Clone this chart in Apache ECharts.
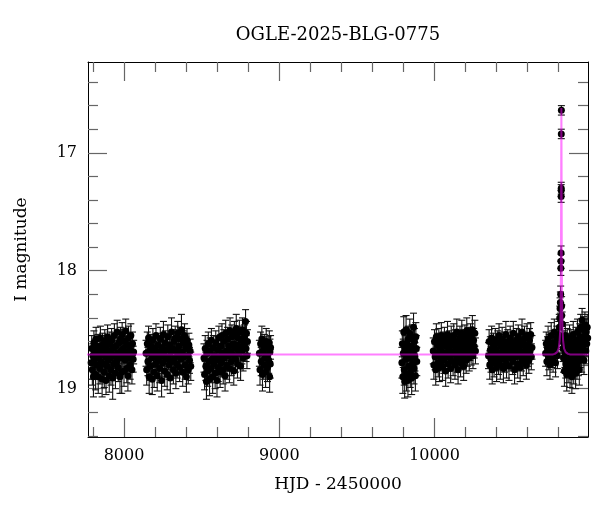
<!DOCTYPE html>
<html>
<head>
<meta charset="utf-8">
<script src="https://cdn.jsdelivr.net/npm/echarts@6/dist/echarts.min.js"></script>
<style>html,body{margin:0;padding:0;background:#fff}#c{width:600px;height:512px}</style>
</head>
<body>
<div id="c"></div>
<script>
// ---- data: [HJD-2450000, I mag, error] ----
const season1 = [[7788,18.78,.14],[7792,18.66,.11],[7796,18.84,.13],[7799,18.72,.10],[7803,18.90,.17],[7806,18.61,.10],[7810,18.75,.12],[7813,18.69,.11],[7817,18.88,.13],[7820,18.58,.10],[7824,18.80,.12],[7827,18.71,.11],[7831,18.64,.10],[7834,18.90,.14],[7838,18.74,.12],[7841,18.67,.11],[7845,18.83,.13],[7848,18.57,.10],[7852,18.77,.12],[7855,18.70,.11],[7859,18.92,.15],[7862,18.63,.10],[7866,18.79,.12],[7869,18.68,.11],[7873,18.86,.13],[7876,18.60,.10],[7880,18.73,.11],[7884,18.93,.12],[7887,18.65,.10],[7891,18.81,.12],[7894,18.56,.10],[7898,18.76,.12],[7901,18.69,.11],[7905,18.89,.14],[7909,18.62,.10],[7912,18.74,.11],[7916,18.84,.13],[7920,18.59,.10],[7923,18.71,.11],[7927,18.91,.18],[7930,18.66,.10],[7934,18.79,.12],[7938,18.55,.10],[7941,18.72,.11],[7945,18.87,.13],[7948,18.64,.10],[7952,18.77,.12],[7956,18.52,.10],[7959,18.70,.11],[7963,18.82,.12],[7967,18.61,.10],[7970,18.74,.11],[7974,18.90,.14],[7977,18.58,.10],[7981,18.68,.11],[7985,18.86,.18],[7988,18.54,.10],[7992,18.73,.11],[7996,18.66,.10],[8000,18.85,.13],[8003,18.60,.10],[8007,18.76,.11],[8011,18.51,.10],[8014,18.70,.11],[8018,18.83,.12],[8022,18.63,.10],[8025,18.89,.13],[8029,18.57,.10],[8033,18.74,.11],[8036,18.67,.10],[8040,18.80,.12],[8044,18.55,.10],[8047,18.72,.11],[8051,18.84,.12],[8055,18.62,.10],[8059,18.75,.11],[8062,18.69,.10]];
const season2 = [[8142,18.70,.11],[8146,18.84,.13],[8150,18.62,.10],[8154,18.77,.12],[8158,18.57,.10],[8162,18.90,.14],[8166,18.68,.11],[8170,18.81,.12],[8174,18.64,.10],[8178,18.74,.11],[8182,18.92,.13],[8186,18.59,.10],[8190,18.71,.11],[8194,18.86,.13],[8198,18.66,.10],[8202,18.79,.12],[8206,18.55,.10],[8210,18.73,.11],[8214,18.89,.13],[8218,18.63,.10],[8222,18.76,.11],[8226,18.69,.11],[8230,18.83,.12],[8234,18.58,.10],[8238,18.72,.11],[8242,18.93,.14],[8246,18.65,.10],[8250,18.78,.12],[8254,18.54,.11],[8258,18.70,.11],[8262,18.85,.13],[8266,18.61,.10],[8270,18.75,.11],[8274,18.67,.10],[8278,18.88,.13],[8282,18.56,.10],[8286,18.73,.11],[8290,18.80,.12],[8294,18.63,.10],[8298,18.91,.13],[8302,18.69,.11],[8306,18.52,.12],[8310,18.77,.12],[8314,18.66,.10],[8318,18.84,.12],[8322,18.60,.10],[8326,18.74,.11],[8330,18.57,.10],[8334,18.87,.13],[8338,18.68,.11],[8342,18.79,.12],[8346,18.53,.10],[8350,18.71,.11],[8354,18.64,.10],[8358,18.82,.12],[8362,18.58,.10],[8366,18.75,.11],[8370,18.50,.13],[8374,18.69,.11],[8378,18.86,.12],[8382,18.61,.10],[8386,18.73,.11],[8390,18.55,.10],[8394,18.80,.12],[8398,18.66,.10],[8402,18.90,.13],[8406,18.59,.10],[8410,18.72,.11],[8414,18.84,.12],[8418,18.63,.10],[8422,18.76,.11],[8426,18.68,.10],[8430,18.81,.12]];
const season3 = [[8515,18.74,.12],[8519,18.88,.13],[8523,18.66,.11],[8527,18.81,.12],[8531,18.94,.15],[8535,18.70,.11],[8539,18.85,.13],[8543,18.62,.10],[8547,18.77,.12],[8551,18.92,.14],[8555,18.68,.11],[8559,18.83,.12],[8563,18.59,.10],[8567,18.75,.11],[8571,18.90,.14],[8575,18.65,.10],[8579,18.79,.12],[8583,18.72,.11],[8587,18.87,.13],[8591,18.61,.10],[8595,18.76,.12],[8599,18.93,.14],[8603,18.67,.11],[8607,18.82,.12],[8611,18.57,.10],[8615,18.73,.11],[8619,18.86,.13],[8623,18.64,.10],[8627,18.78,.12],[8631,18.55,.10],[8635,18.70,.11],[8639,18.84,.12],[8643,18.60,.10],[8647,18.74,.11],[8651,18.89,.13],[8655,18.53,.11],[8659,18.68,.11],[8663,18.80,.12],[8667,18.58,.10],[8671,18.72,.11],[8675,18.64,.10],[8679,18.83,.12],[8683,18.51,.11],[8687,18.69,.11],[8691,18.77,.12],[8695,18.56,.10],[8699,18.71,.11],[8703,18.62,.10],[8707,18.85,.12],[8711,18.53,.10],[8715,18.66,.11],[8719,18.75,.11],[8723,18.49,.12],[8727,18.63,.10],[8731,18.79,.12],[8735,18.57,.10],[8739,18.70,.11],[8743,18.52,.10],[8747,18.65,.11],[8751,18.81,.12],[8755,18.59,.10],[8759,18.68,.11],[8763,18.50,.10],[8767,18.74,.11],[8771,18.62,.10],[8775,18.56,.10],[8783,18.43,.10],[8786,18.66,.11],[8789,18.53,.10],[8792,18.72,.11],[8795,18.60,.10]];
const season4 = [[8872,18.70,.11],[8876,18.84,.13],[8880,18.62,.10],[8884,18.77,.12],[8888,18.58,.11],[8892,18.88,.14],[8896,18.68,.11],[8900,18.80,.12],[8904,18.64,.10],[8908,18.74,.11],[8912,18.86,.13],[8916,18.60,.11],[8920,18.72,.11],[8924,18.82,.12],[8928,18.66,.10],[8932,18.76,.11],[8936,18.61,.10],[8938,18.90,.13],[8940,18.69,.11],[8942,18.79,.12],[8944,18.65,.10]];
const season5 = [[9790,18.78,.13],[9793,18.62,.11],[9796,18.90,.14],[9799,18.70,.12],[9802,18.52,.13],[9805,18.84,.13],[9808,18.94,.14],[9811,18.66,.11],[9814,18.75,.12],[9817,18.50,.12],[9820,18.88,.14],[9823,18.61,.11],[9826,18.72,.12],[9829,18.93,.14],[9832,18.58,.11],[9835,18.81,.13],[9838,18.68,.11],[9841,18.53,.12],[9844,18.86,.13],[9847,18.74,.12],[9850,18.64,.11],[9853,18.91,.14],[9856,18.57,.11],[9859,18.79,.12],[9862,18.69,.11],[9865,18.48,.12],[9868,18.83,.13],[9871,18.60,.11],[9874,18.73,.12],[9877,18.89,.13],[9880,18.56,.12],[9883,18.66,.11],[9886,18.77,.12]];
const season6 = [[9992,18.68,.11],[9996,18.80,.12],[10000,18.60,.10],[10004,18.73,.11],[10008,18.84,.13],[10012,18.56,.11],[10016,18.70,.11],[10020,18.63,.10],[10024,18.78,.12],[10028,18.59,.10],[10032,18.82,.12],[10036,18.66,.11],[10040,18.74,.11],[10044,18.55,.11],[10048,18.69,.11],[10052,18.81,.12],[10056,18.62,.10],[10060,18.76,.11],[10064,18.58,.10],[10068,18.72,.11],[10072,18.85,.13],[10076,18.64,.10],[10080,18.70,.11],[10084,18.54,.11],[10088,18.79,.12],[10092,18.67,.10],[10096,18.61,.10],[10100,18.74,.11],[10104,18.83,.12],[10108,18.57,.10],[10112,18.69,.11],[10116,18.63,.10],[10120,18.77,.12],[10124,18.55,.10],[10128,18.71,.11],[10132,18.80,.12],[10136,18.60,.10],[10140,18.66,.11],[10144,18.52,.11],[10148,18.75,.11],[10152,18.84,.12],[10156,18.62,.10],[10160,18.70,.11],[10164,18.57,.10],[10168,18.78,.12],[10172,18.65,.10],[10176,18.53,.11],[10180,18.73,.11],[10184,18.60,.10],[10188,18.81,.12],[10192,18.68,.11],[10196,18.56,.10],[10200,18.64,.10],[10204,18.76,.11],[10208,18.51,.11],[10212,18.70,.11],[10216,18.62,.10],[10220,18.58,.10],[10224,18.74,.11],[10228,18.66,.10],[10232,18.55,.10],[10236,18.69,.11],[10240,18.61,.10],[10244,18.50,.12],[10248,18.72,.11],[10252,18.59,.10],[10256,18.64,.10],[10260,18.53,.11],[10264,18.68,.11]];
const season7 = [[10348,18.72,.11],[10352,18.60,.10],[10356,18.80,.12],[10360,18.67,.11],[10364,18.75,.11],[10368,18.57,.10],[10372,18.84,.12],[10376,18.70,.11],[10380,18.63,.10],[10384,18.78,.12],[10388,18.66,.10],[10392,18.59,.10],[10396,18.74,.11],[10400,18.82,.12],[10404,18.69,.11],[10408,18.61,.10],[10412,18.77,.11],[10416,18.55,.10],[10420,18.71,.11],[10424,18.80,.12],[10428,18.64,.10],[10432,18.73,.11],[10436,18.58,.10],[10440,18.68,.11],[10444,18.83,.12],[10448,18.62,.10],[10452,18.75,.11],[10456,18.66,.10],[10460,18.54,.11],[10464,18.79,.12],[10468,18.70,.11],[10472,18.60,.10],[10476,18.72,.11],[10480,18.81,.12],[10484,18.65,.10],[10488,18.57,.10],[10492,18.74,.11],[10496,18.68,.11],[10500,18.62,.10],[10504,18.77,.11],[10508,18.53,.10],[10512,18.70,.11],[10516,18.84,.12],[10520,18.63,.10],[10524,18.73,.11],[10528,18.59,.10],[10532,18.67,.10],[10536,18.79,.12],[10540,18.56,.10],[10544,18.71,.11],[10548,18.64,.10],[10552,18.82,.12],[10556,18.60,.10],[10560,18.74,.11],[10564,18.52,.11],[10568,18.69,.11],[10572,18.77,.12],[10576,18.62,.10],[10580,18.57,.10],[10584,18.72,.11],[10588,18.66,.10],[10592,18.80,.12],[10596,18.55,.10],[10600,18.70,.11],[10604,18.63,.10],[10608,18.76,.11],[10612,18.59,.10],[10616,18.68,.11],[10620,18.54,.10],[10624,18.73,.11],[10628,18.65,.10]];
const season8 = [[10716,18.70,.11],[10720,18.62,.10],[10724,18.77,.12],[10728,18.66,.10],[10732,18.58,.11],[10736,18.73,.11],[10740,18.64,.10],[10744,18.80,.12],[10748,18.68,.11],[10752,18.55,.11],[10756,18.71,.11],[10760,18.61,.10],[10764,18.75,.11],[10768,18.66,.10],[10772,18.52,.11],[10776,18.69,.11],[10780,18.78,.12],[10784,18.63,.10],[10788,18.57,.10],[10792,18.72,.11],[10796,18.60,.10],[10800,18.54,.11],[10804,18.48,.11],[10807,18.40,.10],[10809,18.32,.09],[10811,18.27,.09],[10813,18.20,.07],[10814,17.98,.06],[10815,17.92,.06],[10815.5,17.85,.06],[10816,17.37,.05],[10816.3,17.32,.05],[10816.6,17.30,.05],[10817,16.84,.04],[10817.5,16.64,.04],[10819,18.30,.08],[10820,18.38,.09],[10822,18.45,.10],[10825,18.58,.11],[10828,18.66,.11],[10831,18.74,.12],[10834,18.62,.11],[10837,18.85,.13],[10840,18.70,.12],[10843,18.55,.11],[10846,18.79,.12],[10849,18.67,.11],[10852,18.88,.14],[10855,18.60,.11],[10858,18.73,.12],[10861,18.82,.13],[10864,18.64,.11],[10867,18.76,.12],[10870,18.57,.11],[10873,18.86,.13],[10876,18.69,.11],[10879,18.61,.11],[10882,18.78,.12],[10885,18.90,.14],[10888,18.66,.11],[10891,18.72,.12],[10894,18.54,.11],[10897,18.83,.13],[10900,18.63,.11],[10903,18.75,.12],[10906,18.68,.11],[10909,18.87,.13],[10912,18.59,.11],[10915,18.71,.12],[10918,18.80,.12],[10921,18.52,.11],[10924,18.65,.11],[10927,18.77,.12],[10930,18.60,.11],[10933,18.84,.13],[10936,18.56,.11],[10939,18.70,.12],[10942,18.48,.11],[10945,18.64,.11],[10948,18.74,.12],[10951,18.42,.10],[10954,18.58,.11],[10957,18.67,.11],[10960,18.50,.11],[10963,18.76,.12],[10966,18.61,.11],[10969,18.46,.11],[10972,18.55,.11],[10975,18.68,.11],[10978,18.52,.11],[10981,18.62,.11],[10984,18.48,.11],[10987,18.57,.11]];
// model curve
const modelCurve = [[7700,18.71],[10760,18.71],[10775,18.705],[10790,18.69],[10800,18.66],[10806,18.60],[10810,18.50],[10813,18.30],[10815,17.80],[10816,17.30],[10817,16.80],[10817.5,16.62],[10818,16.80],[10819,17.30],[10820,17.80],[10822,18.30],[10825,18.50],[10829,18.60],[10835,18.66],[10845,18.69],[10860,18.705],[10875,18.71],[11100,18.71]];
// axis ticks
const xMajor = [8000, 9000, 10000];
const xMinor = [7800, 8200, 8400, 8600, 8800, 9200, 9400, 9600, 9800, 10200, 10400, 10600, 10800];
const yMajor = [17, 18, 19];
const yMinor = [16.4, 16.6, 16.8, 17.2, 17.4, 17.6, 17.8, 18.2, 18.4, 18.6, 18.8, 19.2, 19.4];

const points = season1.concat(season2, season3, season4, season5, season6, season7, season8);

const FONT = 'DejaVu Serif';
const X_MIN = 7768, X_MAX = 10989, Y_MIN = 16.23, Y_MAX = 19.41;
const tickColor = '#666';

function xAx(pos, vals, len, major, line) {
  return {
    type: 'value', position: pos, min: X_MIN, max: X_MAX,
    axisLine: { show: line, onZero: false, lineStyle: { color: '#000', width: 1 } },
    axisTick: { show: true, inside: true, length: len, customValues: vals, lineStyle: { color: tickColor, width: 1.2 } },
    axisLabel: { show: major && pos === 'bottom', customValues: vals, margin: 11, color: '#000', fontFamily: FONT, fontSize: 16,
                 formatter: function (v) { return String(v); } },
    splitLine: { show: false },
    name: (major && pos === 'bottom') ? 'HJD - 2450000' : '',
    nameLocation: 'middle', nameGap: 39,
    nameTextStyle: { color: '#000', fontFamily: FONT, fontSize: 17 }
  };
}
function yAx(pos, vals, len, major, line) {
  return {
    type: 'value', position: pos, min: Y_MIN, max: Y_MAX, inverse: true,
    axisLine: { show: line, onZero: false, lineStyle: { color: '#000', width: 1 } },
    axisTick: { show: true, inside: true, length: len, customValues: vals, lineStyle: { color: tickColor, width: 1.2 } },
    axisLabel: { show: major && pos === 'left', customValues: vals, margin: 11, color: '#000', fontFamily: FONT, fontSize: 16,
                 formatter: function (v) { return String(v); } },
    splitLine: { show: false },
    name: (major && pos === 'left') ? 'I magnitude' : '',
    nameLocation: 'middle', nameGap: 58,
    nameTextStyle: { color: '#000', fontFamily: FONT, fontSize: 17 }
  };
}

const chart = echarts.init(document.getElementById('c'), null, { renderer: 'canvas' });
chart.setOption({
  animation: false,
  backgroundColor: '#fff',
  grid: { left: 88, right: 12, top: 62, bottom: 75, containLabel: false },
  graphic: [{
    type: 'text', x: 338, y: 35,
    style: { text: 'OGLE-2025-BLG-0775', fill: '#000', font: '18px "DejaVu Serif"', textAlign: 'center', textVerticalAlign: 'middle' }
  }],
  xAxis: [
    xAx('bottom', xMajor, 19, true, true),
    xAx('bottom', xMinor, 10, false, false),
    xAx('top', xMajor, 19, true, true),
    xAx('top', xMinor, 10, false, false)
  ],
  yAxis: [
    yAx('left', yMajor, 19, true, true),
    yAx('left', yMinor, 10, false, false),
    yAx('right', yMajor, 19, true, true),
    yAx('right', yMinor, 10, false, false)
  ],
  series: [
    {
      type: 'custom', xAxisIndex: 0, yAxisIndex: 0, data: points, encode: { x: 0, y: 1 }, z: 2, clip: true,
      renderItem: function (params, api) {
        const t = api.value(0), m = api.value(1), e = api.value(2);
        const a = api.coord([t, m - e]);
        const b = api.coord([t, m + e]);
        const hw = 3.5;
        const st = { stroke: '#111', lineWidth: 1.1 };
        return { type: 'group', children: [
          { type: 'line', shape: { x1: a[0], y1: a[1], x2: b[0], y2: b[1] }, style: st },
          { type: 'line', shape: { x1: a[0] - hw, y1: a[1], x2: a[0] + hw, y2: a[1] }, style: st },
          { type: 'line', shape: { x1: b[0] - hw, y1: b[1], x2: b[0] + hw, y2: b[1] }, style: st }
        ] };
      }
    },
    {
      type: 'scatter', xAxisIndex: 0, yAxisIndex: 0, data: points.map(p => [p[0], p[1]]),
      symbol: 'circle', symbolSize: 7, itemStyle: { color: '#000', opacity: 1 }, z: 3, clip: true, large: false
    },
    {
      type: 'line', xAxisIndex: 0, yAxisIndex: 0, data: modelCurve, showSymbol: false, symbol: 'none',
      lineStyle: { color: '#ff00ff', width: 2, opacity: 0.5 }, z: 4, clip: true, silent: true
    }
  ]
});
</script>
</body>
</html>
